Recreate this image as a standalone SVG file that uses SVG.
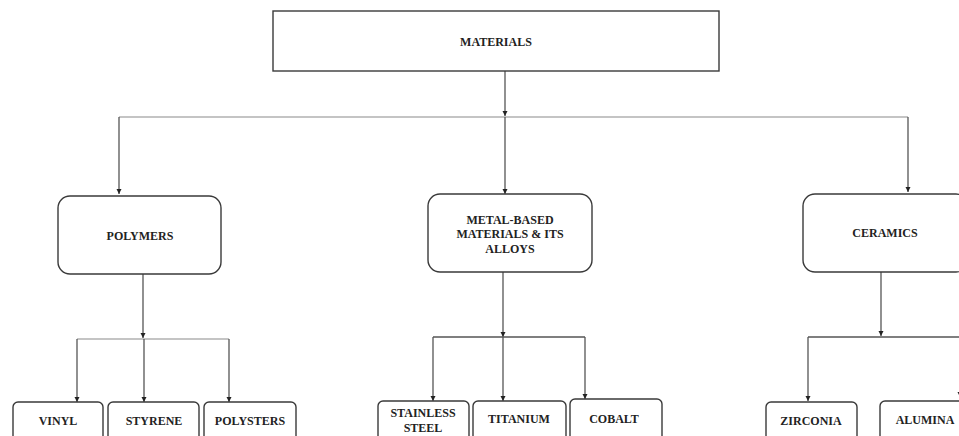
<svg xmlns="http://www.w3.org/2000/svg" width="959" height="436" viewBox="0 0 959 436">
<style>
.box{fill:#fff;stroke:#3a3a3a;stroke-width:1.4}
.t{font-family:"Liberation Serif","Times New Roman",serif;font-weight:bold;font-size:12px;fill:#222;text-anchor:middle}
.c{fill:none;stroke:#555;stroke-width:1.3}
.h{fill:none;stroke:#8a8a8a;stroke-width:1.2}
</style>
<defs>
<marker id="ah" markerWidth="6" markerHeight="6" refX="5" refY="3" orient="auto" markerUnits="userSpaceOnUse">
<path d="M0,0.5 L5,3 L0,5.5 Z" fill="#222"/>
</marker>
</defs>
<rect width="959" height="436" fill="#fff"/>
<g id="connectors">
<path class="c" d="M505,71 V116" marker-end="url(#ah)"/>
<path class="h" d="M119,117 H908"/>
<path class="c" d="M119,117 V194" marker-end="url(#ah)"/>
<path class="c" d="M505,117 V194" marker-end="url(#ah)"/>
<path class="c" d="M908,117 V192" marker-end="url(#ah)"/>
<path class="c" d="M143,274 V338" marker-end="url(#ah)"/>
<path class="h" d="M77,339 H229"/>
<path class="c" d="M77,339 V402" marker-end="url(#ah)"/>
<path class="c" d="M144,339 V402" marker-end="url(#ah)"/>
<path class="c" d="M229,339 V402" marker-end="url(#ah)"/>
<path class="c" d="M503,272 V337" marker-end="url(#ah)"/>
<path class="c" d="M433,337 H585"/>
<path class="c" d="M433,337 V401" marker-end="url(#ah)"/>
<path class="c" d="M503,337 V401" marker-end="url(#ah)"/>
<path class="c" d="M585,337 V399" marker-end="url(#ah)"/>
<path class="c" d="M881,272 V336" marker-end="url(#ah)"/>
<path class="c" d="M808,337 H960"/>
<path class="c" d="M808,337 V401" marker-end="url(#ah)"/>
<path class="c" d="M960,337 V397" marker-end="url(#ah)"/>
</g>
<g id="materials"><rect class="box" x="273" y="11" width="446" height="60"/><text class="t" x="496" y="46">MATERIALS</text></g>
<g id="polymers"><rect class="box" x="58" y="196" width="163" height="78" rx="12"/><text class="t" x="140" y="240">POLYMERS</text></g>
<g id="metal"><rect class="box" x="428" y="194" width="164" height="78" rx="12"/><text class="t" x="510" y="224">METAL-BASED</text><text class="t" x="510" y="238">MATERIALS &amp; ITS</text><text class="t" x="510" y="253">ALLOYS</text></g>
<g id="ceramics"><rect class="box" x="803" y="194" width="165" height="78" rx="12"/><text class="t" x="885" y="237">CERAMICS</text></g>
<g id="vinyl"><rect class="box" x="13" y="402" width="90" height="50" rx="5"/><text class="t" x="58" y="425">VINYL</text></g>
<g id="styrene"><rect class="box" x="108" y="402" width="91" height="50" rx="5"/><text class="t" x="154" y="425">STYRENE</text></g>
<g id="polysters"><rect class="box" x="204" y="402" width="92" height="50" rx="5"/><text class="t" x="250" y="425">POLYSTERS</text></g>
<g id="stainless"><rect class="box" x="378" y="401" width="91" height="50" rx="5"/><text class="t" x="423" y="417">STAINLESS</text><text class="t" x="423" y="432">STEEL</text></g>
<g id="titanium"><rect class="box" x="473" y="401" width="93" height="50" rx="5"/><text class="t" x="519" y="423">TITANIUM</text></g>
<g id="cobalt"><rect class="box" x="570" y="399" width="92" height="50" rx="5"/><text class="t" x="614" y="423">COBALT</text></g>
<g id="zirconia"><rect class="box" x="766" y="402" width="91" height="50" rx="5"/><text class="t" x="811" y="425">ZIRCONIA</text></g>
<g id="alumina"><rect class="box" x="880" y="401" width="91" height="50" rx="5"/><text class="t" x="925" y="424">ALUMINA</text></g>
</svg>
